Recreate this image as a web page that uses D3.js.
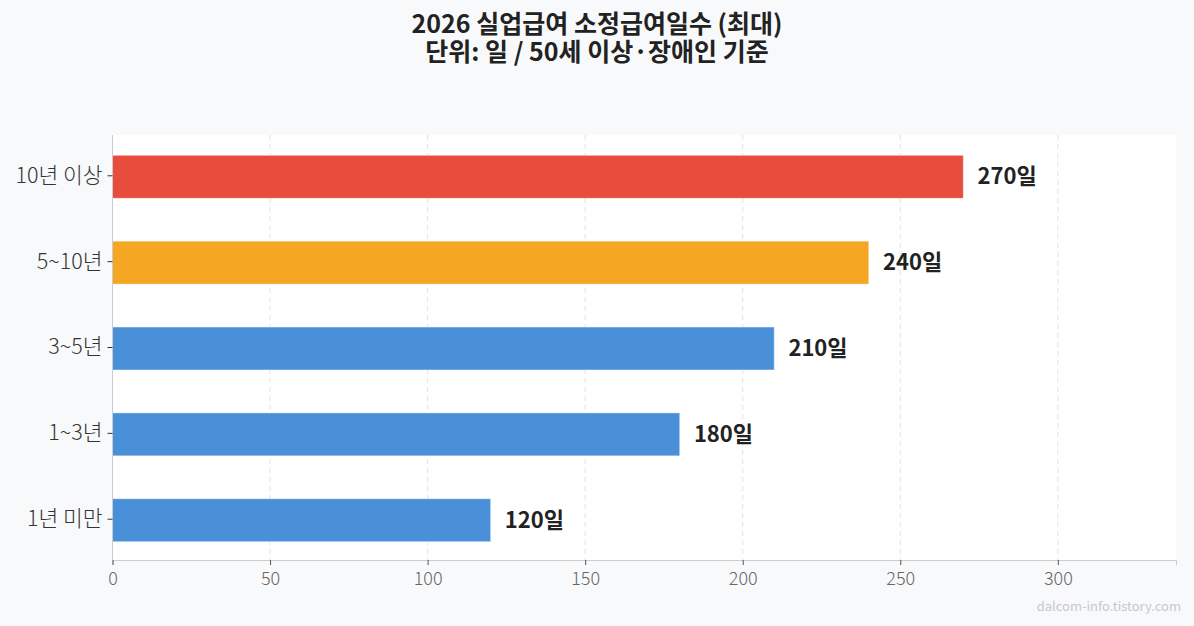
<!DOCTYPE html>
<html>
<head>
    <meta charset="utf-8">
    <title>2026 실업급여 소정급여일수</title>
    <script src="https://cdn.jsdelivr.net/npm/d3@7"></script>
    <style>
        html, body {
            margin: 0;
            padding: 0;
            background: #f8f9fa;
        }

        svg {
            font-family: 'Noto Sans CJK KR', 'Noto Sans', sans-serif;
        }
    </style>
</head>
<body>
    <svg id="chart" width="1194" height="626"></svg>

    <script>
        // Data
        var categories = ["10년 이상", "5~10년", "3~5년", "1~3년", "1년 미만"];
        var days = [270, 240, 210, 180, 120];
        var barColors = ["#e74c3c", "#f5a623", "#4a90d9", "#4a90d9", "#4a90d9"];
        var xTicks = [0, 50, 100, 150, 200, 250, 300];
        var titleLines = ["2026 실업급여 소정급여일수 (최대)", "단위: 일 / 50세 이상·장애인 기준"];

        var svg = d3.select("#chart");

        // Plot area (window.top is reserved, so use a margin object)
        var plot = { left: 112.5, right: 1176, top: 135, bottom: 560 };

        svg.append("rect")
            .attr("x", plot.left)
            .attr("y", plot.top)
            .attr("width", plot.right - plot.left)
            .attr("height", plot.bottom - plot.top)
            .attr("fill", "#ffffff");

        var x = d3.scaleLinear()
            .domain([0, d3.max(days) * 1.25])
            .range([plot.left, plot.right]);

        var y = d3.scaleBand()
            .domain(categories)
            .range([plot.top, plot.bottom])
            .paddingInner(0.5)
            .paddingOuter(0.225);

        // Dashed vertical grid
        svg.append("g")
            .selectAll("line")
            .data(xTicks.slice(1))
            .join("line")
            .attr("x1", d => x(d))
            .attr("x2", d => x(d))
            .attr("y1", plot.top)
            .attr("y2", plot.bottom)
            .attr("stroke", "#e3e3e3")
            .attr("stroke-dasharray", "5,4")
            .attr("stroke-width", 1);

        // Bars
        svg.append("g")
            .selectAll("rect")
            .data(categories)
            .join("rect")
            .attr("x", x(0))
            .attr("y", d => y(d) + 1)
            .attr("width", (d, i) => x(days[i]) - x(0))
            .attr("height", y.bandwidth())
            .attr("fill", (d, i) => barColors[i])
            .attr("stroke", "#ffffff")
            .attr("stroke-opacity", 0.4)
            .attr("stroke-width", 1);

        // Value labels
        svg.append("g")
            .selectAll("text")
            .data(categories)
            .join("text")
            .attr("x", (d, i) => x(days[i] + 4.5))
            .attr("y", d => y(d) + y.bandwidth() / 2 + 1)
            .attr("dy", "0.35em")
            .style("font-size", "22px")
            .style("font-weight", "bold")
            .style("fill", "#222222")
            .text((d, i) => days[i] + "일");

        // X axis
        var xAxis = svg.append("g")
            .attr("transform", `translate(0,${plot.bottom})`)
            .call(d3.axisBottom(x).tickValues(xTicks).tickSize(5).tickPadding(7));
        xAxis.select(".domain").attr("stroke", "#cccccc");
        xAxis.selectAll(".tick line").attr("stroke", "#555555");
        xAxis.selectAll("text")
            .style("font-size", "18px")
            .style("font-weight", "300")
            .style("fill", "#666666")
            .style("font-family", "'Noto Sans CJK KR', sans-serif");

        // Y axis
        var yAxis = svg.append("g")
            .attr("transform", `translate(${plot.left},0)`)
            .call(d3.axisLeft(y).tickSize(5).tickPadding(5).offset(1));
        yAxis.select(".domain").attr("stroke", "#cccccc")
            .attr("d", `M0,${plot.top}V${plot.bottom}`);
        yAxis.selectAll(".tick line").attr("stroke", "#333333");
        yAxis.selectAll("text")
            .style("font-size", "21.5px")
            .style("font-weight", "300")
            .style("fill", "#333333")
            .style("font-family", "'Noto Sans CJK KR', sans-serif");

        // Title
        svg.append("g")
            .selectAll("text")
            .data(titleLines)
            .join("text")
            .attr("x", 597)
            .attr("y", (d, i) => 33 + i * 28)
            .attr("text-anchor", "middle")
            .style("font-size", "25px")
            .style("font-weight", "bold")
            .style("fill", "#222222")
            .text(d => d);

        // Watermark
        svg.append("text")
            .attr("x", 1181)
            .attr("y", 611)
            .attr("text-anchor", "end")
            .style("font-size", "13px")
            .style("fill", "#c8c8c8")
            .text("dalcom-info.tistory.com");
    </script>
</body>
</html>
